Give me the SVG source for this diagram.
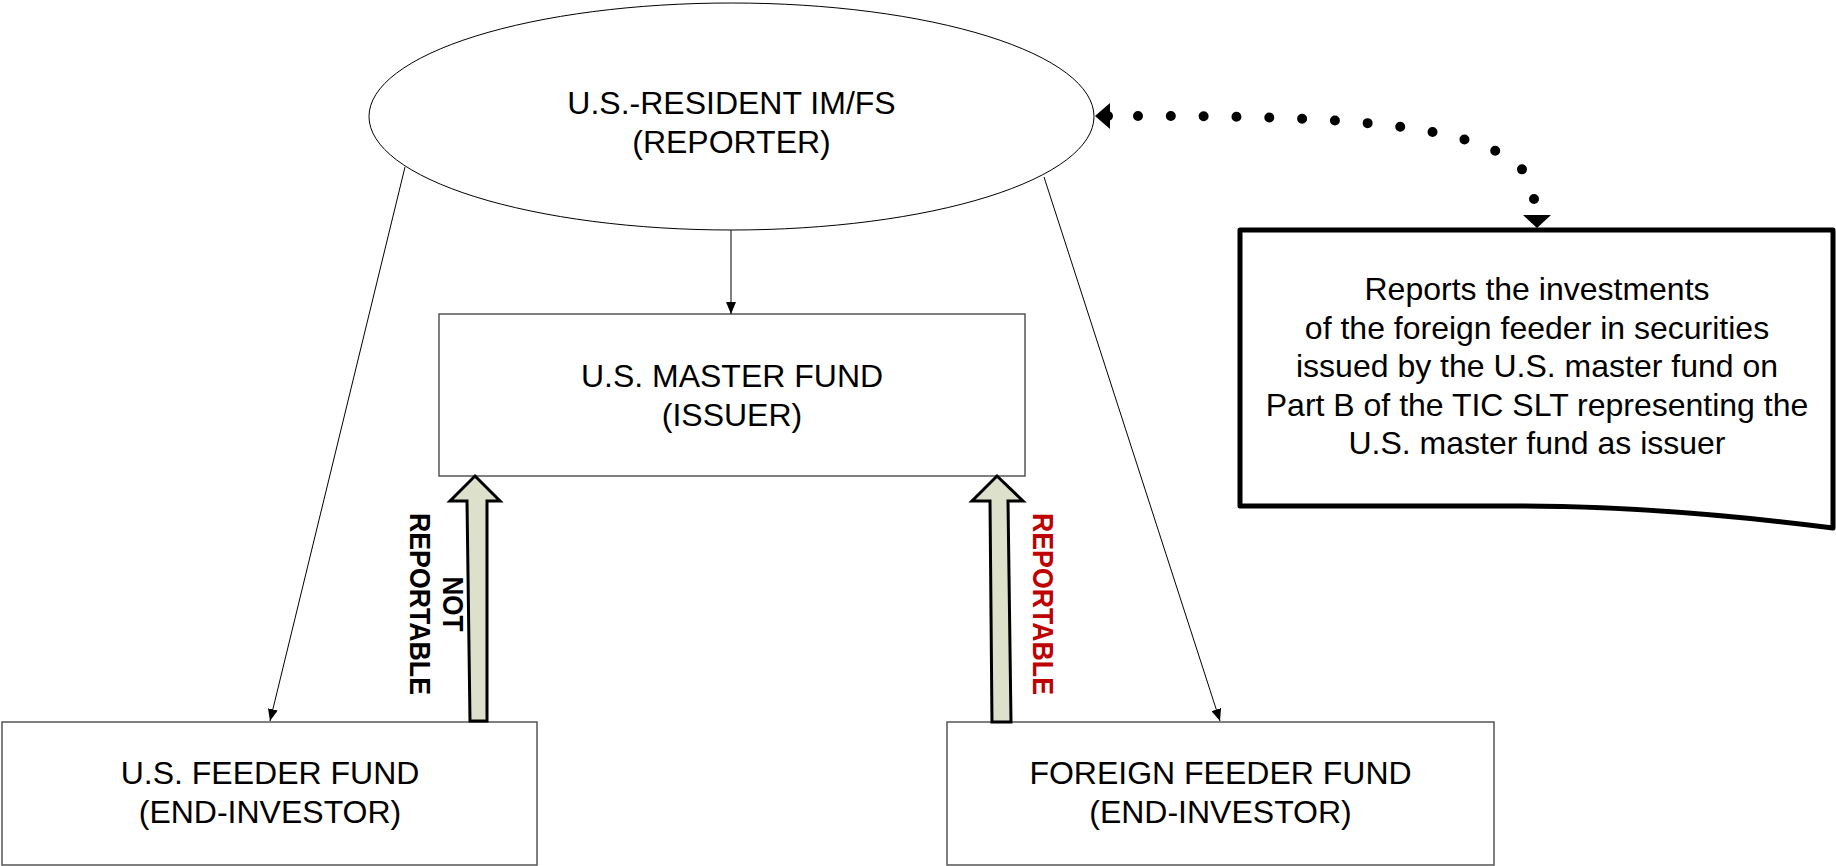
<svg xmlns="http://www.w3.org/2000/svg" width="1836" height="866" viewBox="0 0 1836 866">
  <defs>
    <style>
      .lbl { font-family: "Liberation Sans", Arial, sans-serif; font-size: 32px; fill: #000; text-anchor: middle; }
      .vlbl { font-family: "Liberation Sans", Arial, sans-serif; font-size: 30px; font-weight: bold; text-anchor: middle; }
      .box { fill: #fff; stroke: #555; stroke-width: 1.5; }
      .thin { fill: none; stroke: #000; stroke-width: 1; marker-end: url(#tip); }
      .block { fill: #dde0cb; stroke: #000; stroke-width: 3; stroke-linejoin: miter; }
    </style>
    <marker id="tip" viewBox="0 0 12 10" refX="12" refY="5" markerWidth="12" markerHeight="10" markerUnits="userSpaceOnUse" orient="auto">
      <path d="M0,0 L12,5 L0,10 Z" fill="#000"/>
    </marker>
  </defs>

  <rect width="1836" height="866" fill="#fff"/>

  <!-- reporter -->
  <g id="reporter">
    <ellipse cx="731.5" cy="116.5" rx="362.5" ry="113.5" fill="#fff" stroke="#000" stroke-width="1"/>
    <text class="lbl" x="731.5" y="114">U.S.-RESIDENT IM/FS</text>
    <text class="lbl" x="731.5" y="153">(REPORTER)</text>
  </g>

  <!-- issuer -->
  <g id="master-fund">
    <rect class="box" x="439" y="314" width="586" height="162"/>
    <text class="lbl" x="732" y="387">U.S. MASTER FUND</text>
    <text class="lbl" x="732" y="426">(ISSUER)</text>
  </g>

  <!-- end-investors -->
  <g id="us-feeder">
    <rect class="box" x="2" y="722" width="535" height="143"/>
    <text class="lbl" x="270" y="784">U.S. FEEDER FUND</text>
    <text class="lbl" x="270" y="823">(END-INVESTOR)</text>
  </g>

  <g id="foreign-feeder">
    <rect class="box" x="947" y="722" width="547" height="143"/>
    <text class="lbl" x="1220.5" y="784">FOREIGN FEEDER FUND</text>
    <text class="lbl" x="1220.5" y="823">(END-INVESTOR)</text>
  </g>

  <!-- note (document shape) -->
  <g id="note">
    <path d="M1240,230 H1833 V528 Q1660,506 1520,506 H1240 Z" fill="#fff" stroke="#000" stroke-width="5" stroke-linejoin="round"/>
    <text class="lbl" x="1537" y="300">Reports the investments</text>
    <text class="lbl" x="1537" y="338.5">of the foreign feeder in securities</text>
    <text class="lbl" x="1537" y="377">issued by the U.S. master fund on</text>
    <text class="lbl" x="1537" y="415.5">Part B of the TIC SLT representing the</text>
    <text class="lbl" x="1537" y="454">U.S. master fund as issuer</text>
  </g>

  <!-- connectors -->
  <g id="connectors">
    <line class="thin" x1="731" y1="230" x2="731" y2="314"/>
    <line class="thin" x1="405" y1="167" x2="270" y2="721"/>
    <line class="thin" x1="1044" y1="177" x2="1220" y2="721"/>

    <!-- ownership flows into the master fund -->
    <polygon class="block" points="475,476 500,501 487,501 487,721 470,721 467,501 450,501"/>
    <polygon class="block" points="997,476 1023,501 1008,501 1011,722 992,722 990,501 972,501"/>

    <!-- dotted link between reporter and note -->
    <path d="M1138,116 C1330,116 1534,120 1534,199" fill="none" stroke="#000" stroke-width="10" stroke-linecap="round" pathLength="13" stroke-dasharray="0 1"/>
    <polygon points="1095,116 1110,103 1110,129" fill="#000"/>
    <circle cx="1108" cy="116" r="5" fill="#000"/>
    <polygon points="1523,215 1551,215 1537,228" fill="#000"/>
  </g>

  <!-- flow labels -->
  <g id="flow-labels">
    <g transform="translate(437,604) rotate(90)">
      <text class="vlbl" x="0" y="-6" fill="#000" textLength="55" lengthAdjust="spacingAndGlyphs">NOT</text>
      <text class="vlbl" x="0" y="27" fill="#000" textLength="182" lengthAdjust="spacingAndGlyphs">REPORTABLE</text>
    </g>
    <g transform="translate(1044,604) rotate(90)">
      <text class="vlbl" x="0" y="11" fill="#c00000" textLength="182" lengthAdjust="spacingAndGlyphs">REPORTABLE</text>
    </g>
  </g>
</svg>
